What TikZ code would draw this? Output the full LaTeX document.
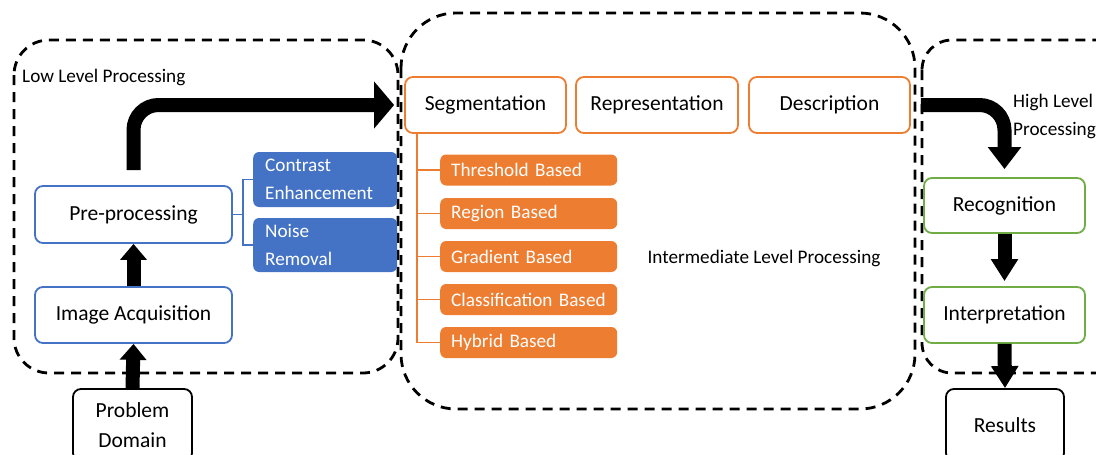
\documentclass[tikz,border=0pt]{standalone}
\usepackage{fontspec}
\setmainfont{Carlito}
\usetikzlibrary{arrows.meta}
\definecolor{offblue}{HTML}{4472C4}
\definecolor{offorange}{HTML}{ED7D31}
\definecolor{offgreen}{HTML}{70AD47}

\begin{document}
\begin{tikzpicture}
  [x=1pt,y=-1pt,
   box/.style={draw,fill=white,rounded corners=8pt,line width=1.8pt,inner sep=0pt,
     align=center,font=\fontsize{21.5}{30}\selectfont},
   subbox/.style={rounded corners=6pt,inner ysep=0pt,anchor=west,align=left,
     text=white,font=\fontsize{19.2}{28}\selectfont},
   zone/.style={draw,line width=2.8pt,dash pattern=on 10pt off 7pt},
   blk/.style={line width=14pt,-{Triangle[width=26pt,length=16pt]}},
   tree/.style={line width=1.8pt},
   lbl/.style={font=\fontsize{19.2}{28}\selectfont,inner sep=0pt}]
  \path[use as bounding box,clip] (0,0) rectangle (1096,455);

  % levels
  \draw[zone,rounded corners=35pt] (14,40) rectangle (398,373);
  \draw[zone,rounded corners=55pt] (401,13) rectangle (915,409);
  \draw[zone,rounded corners=30pt] (922,40) rectangle (1130,373);

  \node[lbl,anchor=west] (low) at (22,77) {Low Level Processing};
  \node[lbl] (mid) at (764,258) {Intermediate Level Processing};
  \node[lbl,anchor=west,align=left] (high) at (1013,116) {High Level\\Processing};

  % low level
  \node[box,draw=offblue,minimum width=197pt,minimum height=57pt] (pre) at (133.5,214.5) {Pre-processing};
  \node[box,draw=offblue,minimum width=197pt,minimum height=56pt] (acq) at (133.5,315) {Image Acquisition};
  \node[box,minimum width=119pt,minimum height=72pt] (dom) at (132.5,425) {Problem\\Domain};
  \node[subbox,fill=offblue,minimum width=144pt,minimum height=55pt,text width=120pt,inner xsep=12pt]
    (contr) at (253,179.5) {Contrast\\Enhancement};
  \node[subbox,fill=offblue,minimum width=144pt,minimum height=54pt,text width=120pt,inner xsep=12pt]
    (noise) at (253,245) {Noise\\Removal};

  \draw[tree,offblue] (pre.east) -- ++(10,0);
  \draw[tree,offblue] (contr.west) -| ([xshift=10pt]pre.east) |- (noise.west);

  % intermediate level
  \node[box,draw=offorange,minimum width=161pt,minimum height=56pt] (seg) at (485.5,105) {Segmentation};
  \node[box,draw=offorange,minimum width=162pt,minimum height=56pt] (repr) at (657,105) {Representation};
  \node[box,draw=offorange,minimum width=161pt,minimum height=56pt] (descr) at (829.5,105) {Description};

  \node[subbox,fill=offorange,minimum width=177pt,minimum height=31pt,text width=155pt,inner xsep=11pt]
    (thr) at (440,170) {Threshold Based};
  \node[subbox,fill=offorange,minimum width=177pt,minimum height=31pt,text width=155pt,inner xsep=11pt]
    (reg) at (440,213.5) {Region Based};
  \node[subbox,fill=offorange,minimum width=177pt,minimum height=31pt,text width=155pt,inner xsep=11pt]
    (grad) at (440,256.5) {Gradient Based};
  \node[subbox,fill=offorange,minimum width=177pt,minimum height=31pt,text width=155pt,inner xsep=11pt]
    (cls) at (440,299.5) {Classification Based};
  \node[subbox,fill=offorange,minimum width=177pt,minimum height=31pt,text width=155pt,inner xsep=11pt]
    (hyb) at (440,342.5) {Hybrid Based};

  \draw[tree,offorange] ([xshift=13pt]seg.south west) |- (hyb.west);
  \foreach \b in {thr,reg,grad,cls}
    \draw[tree,offorange] ([xshift=13pt]seg.south west |- \b.west) -- (\b.west);

  % high level
  \node[box,draw=offgreen,minimum width=161pt,minimum height=55pt] (recog) at (1004.5,205.5) {Recognition};
  \node[box,draw=offgreen,minimum width=161pt,minimum height=56pt] (interp) at (1004.5,315) {Interpretation};
  \node[box,minimum width=118pt,minimum height=72pt] (res) at (1005,425) {Results};

  % flow
  \draw[blk] (dom.north) -- (acq.south);
  \draw[blk] (acq.north) -- (pre.south);
  \draw[blk,rounded corners=25pt,-{Triangle[width=46pt,length=20pt]}]
    ([yshift=15pt]pre.north) |- ([xshift=-10pt]seg.west);
  \draw[blk,rounded corners=25pt,-{Triangle[width=32pt,length=22pt]}]
    ([xshift=10pt]descr.east) -| ([yshift=8pt]recog.north);
  \draw[blk,-{Triangle[width=26pt,length=22pt]}] (recog.south) -- ([yshift=5pt]interp.north);
  \draw[blk,-{Triangle[width=26pt,length=22pt]}] (interp.south) -- (res.north);
\end{tikzpicture}
\end{document}
